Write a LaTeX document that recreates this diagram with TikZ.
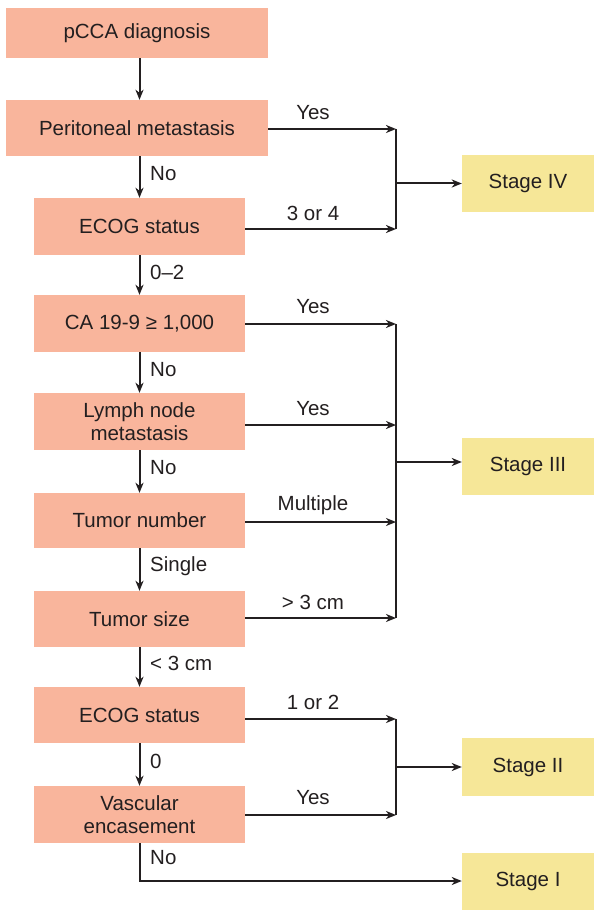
\documentclass[tikz,border=0pt]{standalone}
\usepackage{fontspec}
\setmainfont{Liberation Sans}
\usetikzlibrary{arrows.meta}
\definecolor{salmon}{RGB}{249,181,156}
\definecolor{stageyel}{RGB}{246,231,152}
\definecolor{ink}{RGB}{35,31,32}
\tikzset{
  decbox/.style={fill=salmon, draw=none, inner sep=0pt, align=center,
    minimum width=211pt, minimum height=56pt, text=ink},
  widebox/.style={decbox, minimum width=262pt},
  stagebox/.style={fill=stageyel, draw=none, inner sep=0pt, align=center,
    minimum width=132pt, minimum height=57pt, text=ink},
  conn/.style={draw=ink, line width=2pt},
  arr/.style={conn, -{Stealth[length=10pt,width=8pt,inset=3pt]}},
  lbl/.style={text=ink, inner sep=0pt},
}
\begin{document}
\begin{tikzpicture}[x=1pt,y=-1pt,
  every node/.append style={font=\fontsize{20.5}{23}\selectfont}]
\useasboundingbox (0,0) rectangle (600,917);
% decision boxes
\node[widebox, minimum height=50pt] (b1) at (137,33) {pCCA diagnosis};
\node[widebox] (b2) at (137,128) {Peritoneal metastasis};
\node[decbox, minimum height=57pt] (b3) at (139.5,226.5) {ECOG status};
\node[decbox, minimum height=57pt] (b4) at (139.5,323.5) {CA 19-9 ≥ 1,000};
\node[decbox, minimum height=57pt] (b5) at (139.5,421.5) {Lymph node\\metastasis};
\node[decbox, minimum height=55pt] (b6) at (139.5,520.5) {Tumor number};
\node[decbox] (b7) at (139.5,619) {Tumor size};
\node[decbox] (b8) at (139.5,715) {ECOG status};
\node[decbox, minimum height=57pt] (b9) at (139.5,814.5) {Vascular\\encasement};
% stage boxes
\node[stagebox] (s4) at (528,183.5) {Stage IV};
\node[stagebox] (s3) at (528,466.5) {Stage III};
\node[stagebox, minimum height=58pt] (s2) at (528,767) {Stage II};
\node[stagebox] (s1) at (528,881) {Stage I};
% junction coordinates
\coordinate (j4a) at (396,129);
\coordinate (j4b) at (396,229);
\coordinate (j4m) at (396,183.5);
\coordinate (j3a) at (396,324);
\coordinate (j3b) at (396,425);
\coordinate (j3c) at (396,522);
\coordinate (j3d) at (396,618);
\coordinate (j3m) at (396,462);
\coordinate (j2a) at (396,719);
\coordinate (j2b) at (396,815);
\coordinate (j2m) at (396,767);
% vertical flow
\draw[arr] (b1.south -| b3) -- (b2.north -| b3);
\draw[arr] (b2.south -| b3) -- (b3.north);
\draw[arr] (b3.south) -- (b4.north);
\draw[arr] (b4.south) -- (b5.north);
\draw[arr] (b5.south) -- (b6.north);
\draw[arr] (b6.south) -- (b7.north);
\draw[arr] (b7.south) -- (b8.north);
\draw[arr] (b8.south) -- (b9.north);
\draw[arr] (b9.south) |- (s1.west);
% vertical labels
\node[lbl, anchor=west] (l1) at (150,174) {No};
\node[lbl, anchor=west] (l2) at (150,272) {0–2};
\node[lbl, anchor=west] (l3) at (150,370) {No};
\node[lbl, anchor=west] (l4) at (150,468) {No};
\node[lbl, anchor=west] (l5) at (150,566) {Single};
\node[lbl, anchor=west] (l6) at (150,663) {< 3 cm};
\node[lbl, anchor=west] (l7) at (150,761) {0};
\node[lbl, anchor=west] (l8) at (150,858) {No};
% stage IV
\draw[arr] (b2.east |- j4a) -- (j4a);
\draw[arr] (b3.east |- j4b) -- (j4b);
\draw[conn] (j4a) -- (j4b);
\draw[arr] (j4m) -- (s4.west |- j4m);
\node[lbl] (y1) at (313,113) {Yes};
\node[lbl] (y2) at (313,213) {3 or 4};
% stage III
\draw[arr] (b4.east |- j3a) -- (j3a);
\draw[arr] (b5.east |- j3b) -- (j3b);
\draw[arr] (b6.east |- j3c) -- (j3c);
\draw[arr] (b7.east |- j3d) -- (j3d);
\draw[conn] (j3a) -- (j3d);
\draw[arr] (j3m) -- (s3.west |- j3m);
\node[lbl] (y3) at (313,307) {Yes};
\node[lbl] (y4) at (313,409) {Yes};
\node[lbl] (y5) at (313,505) {Multiple};
\node[lbl] (y6) at (313,602) {> 3 cm};
% stage II
\draw[arr] (b8.east |- j2a) -- (j2a);
\draw[arr] (b9.east |- j2b) -- (j2b);
\draw[conn] (j2a) -- (j2b);
\draw[arr] (j2m) -- (s2.west |- j2m);
\node[lbl] (y7) at (313,702) {1 or 2};
\node[lbl] (y8) at (313,798) {Yes};
\end{tikzpicture}
\end{document}
